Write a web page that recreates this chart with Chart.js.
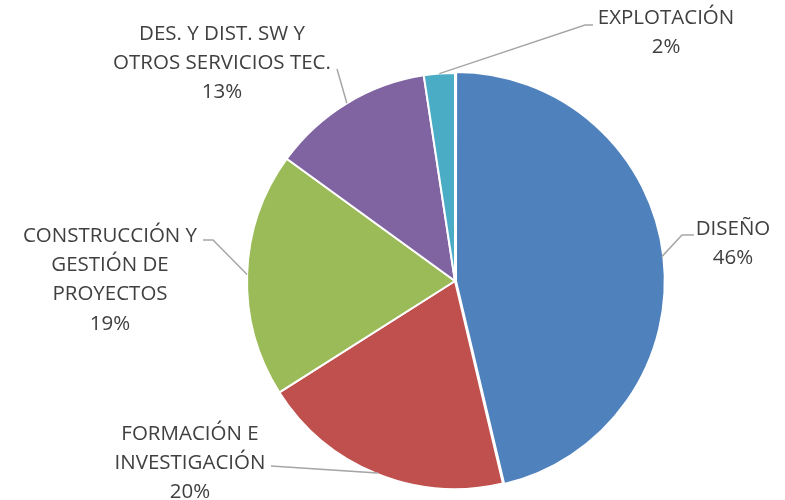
<!DOCTYPE html>
<html>
<head>
<meta charset="utf-8">
<script src="https://cdn.jsdelivr.net/npm/chart.js@4"></script>
<style>
  html, body { margin: 0; padding: 0; background: #fff; }
  #wrap { width: 785px; height: 500px; }
</style>
</head>
<body>
<div id="wrap"><canvas id="pieChart"></canvas></div>
<script>
// data (share of each area, %)
const categories = [
    ['DISEÑO'],
    ['FORMACIÓN E', 'INVESTIGACIÓN'],
    ['CONSTRUCCIÓN Y', 'GESTIÓN DE', 'PROYECTOS'],
    ['DES. Y DIST. SW Y', 'OTROS SERVICIOS TEC.'],
    ['EXPLOTACIÓN']
];
const shares = [46.3, 19.7, 19.0, 12.6, 2.4];
const sliceColors = ['#4F81BD', '#C0504D', '#9BBB59', '#8064A2', '#4BACC6'];

// where each label sits and how its leader line bends
const labelLayout = [
    { x: 733, y: 229, elbow: [682, 235], end: [694, 235] },
    { x: 190, y: 434, elbow: [377, 473], end: [271, 466] },
    { x: 110, y: 236, elbow: [213, 240], end: [203, 240] },
    { x: 222, y: 34, elbow: [337, 69], end: [337, 69] },
    { x: 666, y: 18, elbow: [585, 25], end: [593, 25] }
];

const lineGap = 29.3;

const pieLabels = {
    id: 'pieLabels',
    afterDatasetsDraw(chart) {
        const ctx = chart.ctx;
        const meta = chart.getDatasetMeta(0);
        const total = shares.reduce((a, b) => a + b, 0);
        ctx.save();
        meta.data.forEach((arc, i) => {
            const p = arc.getProps(['x', 'y', 'startAngle', 'endAngle', 'outerRadius'], true);
            const mid = (p.startAngle + p.endAngle) / 2;
            const sx = p.x + Math.cos(mid) * p.outerRadius;
            const sy = p.y + Math.sin(mid) * p.outerRadius;
            const lay = labelLayout[i];

            ctx.strokeStyle = '#A6A6A6';
            ctx.lineWidth = 1.5;
            ctx.beginPath();
            ctx.moveTo(sx, sy);
            ctx.lineTo(lay.elbow[0], lay.elbow[1]);
            ctx.lineTo(lay.end[0], lay.end[1]);
            ctx.stroke();

            const lines = categories[i].concat([Math.round(shares[i] / total * 100) + '%']);
            ctx.fillStyle = '#404040';
            ctx.font = '20.5px "Open Sans"';
            ctx.textAlign = 'center';
            ctx.textBaseline = 'middle';
            lines.forEach((t, k) => ctx.fillText(t, lay.x, lay.y + k * lineGap));
        });
        ctx.restore();
    }
};

new Chart(document.getElementById('pieChart').getContext('2d'), {
    type: 'pie',
    data: {
        labels: categories,
        datasets: [{
            data: shares,
            backgroundColor: sliceColors,
            borderColor: '#FFFFFF',
            borderWidth: 2,
            offset: [4, 0, 0, 0, 0],
            radius: 208
        }]
    },
    options: {
        responsive: true,
        maintainAspectRatio: false,
        animation: false,
        layout: { padding: { left: 125, right: 0, top: 62, bottom: 0 } },
        plugins: {
            legend: { display: false },
            tooltip: { enabled: false }
        }
    },
    plugins: [pieLabels]
});
</script>
</body>
</html>
